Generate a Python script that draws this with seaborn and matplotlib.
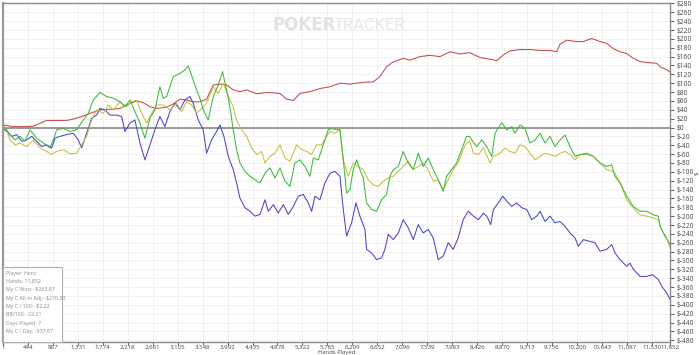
import matplotlib
matplotlib.use("Agg")
import matplotlib.pyplot as plt
from matplotlib.patches import Rectangle
import pandas as pd
import seaborn as sns

# values (hands played, dollars)
red_hands = [1, 7, 185, 362, 540, 777, 836, 1132, 1250, 1428, 1546, 1724, 1901, 2079, 2197,
             2375, 2493, 2612, 2730, 2908, 3026, 3145, 3263, 3381, 3500, 3618, 3737, 3855,
             3973, 4092, 4210, 4330, 4508, 4685, 4922, 5040, 5159, 5277, 5455, 5632, 5810,
             5988, 6165, 6402, 6580, 6698, 6816, 6935, 7112, 7231, 7408, 7586, 7764, 7941,
             8119, 8296, 8477, 8655, 8773, 8892, 9010, 9188, 9365, 9543, 9720, 9839, 9898,
             10016, 10194, 10312, 10460, 10608, 10727, 10845, 10964, 11082, 11200, 11319,
             11496, 11615, 11674, 11792, 11852]
red_won = [0, 6, 2, 2, 3, 16, 16, 16, 19, 26, 32, 40, 41, 43, 51,
           60, 56, 47, 43, 46, 53, 64, 62, 58, 58, 64, 96, 98,
           96, 85, 81, 85, 76, 79, 77, 64, 61, 77, 81, 88, 92,
           100, 98, 102, 103, 115, 137, 148, 156, 152, 160, 163, 160, 171,
           166, 169, 158, 154, 151, 164, 173, 176, 176, 174, 174, 171, 188,
           197, 194, 194, 201, 194, 190, 178, 171, 167, 156, 149,
           146, 145, 137, 131, 125]

green_hands = [1, 7, 66, 125, 214, 303, 392, 481, 599, 717, 836, 895, 954, 1073, 1191, 1309,
               1428, 1517, 1605, 1724, 1842, 1961, 2079, 2168, 2257, 2345, 2434, 2523, 2612,
               2701, 2789, 2849, 2908, 3026, 3145, 3233, 3293, 3381, 3441, 3500, 3559, 3648,
               3737, 3825, 3902, 3973, 4032, 4092, 4151, 4210, 4300, 4389, 4478, 4567, 4656,
               4744, 4833, 4922, 5011, 5100, 5188, 5277, 5366, 5455, 5514, 5603, 5692, 5780,
               5840, 5928, 5988, 6047, 6106, 6165, 6224, 6284, 6343, 6402, 6461, 6550, 6639,
               6728, 6816, 6876, 6935, 7024, 7112, 7201, 7290, 7379, 7468, 7556, 7645, 7734,
               7823, 7882, 7971, 8060, 8148, 8237, 8296, 8329, 8418, 8507, 8596, 8684, 8744,
               8862, 8951, 9040, 9099, 9188, 9276, 9365, 9454, 9543, 9632, 9720, 9809, 9898,
               9987, 10076, 10164, 10253, 10372, 10490, 10608, 10727, 10816, 10875, 10964,
               11082, 11200, 11319, 11437, 11556, 11644, 11674, 11763, 11852]
green_won = [0, 2, -5, -16, -28, -20, -31, -5, -24, -35, -46, -28, -5, -2, -9, -5,
             17, 32, 62, 79, 70, 66, 58, 47, 62, 36, 10, -24, 21,
             40, 92, 66, 70, 115, 122, 130, 139, 107, 85, 66, 40, 17,
             70, 96, 126, 85, 47, -5, -50, -80, -99, -110, -118, -125, -103,
             -91, -114, -91, -121, -133, -80, -73, -88, -110, -69, -73, -39, -5,
             -2, -5, -5, -73, -148, -140, -95, -73, -95, -114, -170, -185, -189,
             -163, -151, -110, -95, -88, -54, -80, -95, -58, -88, -69, -95, -118,
             -144, -110, -95, -80, -50, -20, -20, -28, -43, -28, -43, -65, -13,
             11, -5, 2, -13, 6, -2, -35, -28, -13, -35, -20, -43, -28,
             -17, -43, -65, -61, -58, -65, -80, -88, -84, -110, -125,
             -155, -178, -189, -189, -197, -200, -223, -245, -263.67]

yellow_hands = [1, 7, 66, 125, 214, 303, 421, 540, 658, 777, 865, 954, 1073, 1191, 1309,
                1398, 1487, 1576, 1665, 1783, 1872, 1961, 2079, 2197, 2286, 2375, 2464, 2553,
                2641, 2730, 2849, 2967, 3085, 3174, 3263, 3352, 3441, 3529, 3618, 3737, 3825,
                3914, 4003, 4092, 4151, 4210, 4241, 4330, 4419, 4508, 4596, 4656, 4744, 4833,
                4922, 5011, 5100, 5218, 5307, 5396, 5484, 5573, 5662, 5751, 5810, 5899, 5988,
                6047, 6136, 6224, 6313, 6402, 6491, 6580, 6668, 6757, 6846, 6935, 7024, 7112,
                7201, 7290, 7379, 7468, 7556, 7645, 7734, 7823, 7912, 8000, 8089, 8178, 8237,
                8296, 8359, 8448, 8536, 8655, 8714, 8832, 8921, 9010, 9099, 9188, 9276, 9365,
                9454, 9543, 9632, 9720, 9809, 9898, 9987, 10076, 10164, 10253, 10372, 10490,
                10608, 10727, 10845, 10904, 10993, 11082, 11200, 11319, 11437, 11556, 11644,
                11704, 11792, 11852]
yellow_won = [0, 6, -5, -28, -39, -35, -43, -28, -46, -54, -61, -54, -50, -59, -58,
              -39, -20, 17, 40, 32, 51, 40, 58, 47, 58, 62, 32, 10,
              32, 51, 51, 40, 55, 36, 58, 51, 32, 43, 55, 92, 77,
              100, 70, 47, 17, 2, -5, -20, -46, -61, -54, -80, -65, -58,
              -39, -69, -76, -39, -50, -54, -61, -39, -39, -20, -9, -13, -5,
              -73, -110, -80, -88, -95, -118, -129, -133, -121, -114, -110, -99, -88,
              -76, -95, -88, -80, -95, -121, -118, -140, -118, -95, -80, -50, -35,
              -31, -58, -61, -46, -80, -65, -58, -46, -54, -58, -39, -43, -58,
              -73, -65, -58, -61, -65, -58, -54, -61, -73, -61, -61, -65,
              -80, -95, -99, -110, -133, -163, -182, -197, -200, -204, -208,
              -230, -249, -270.53]

blue_hands = [1, 7, 66, 155, 244, 333, 421, 510, 599, 688, 777, 865, 925, 1013, 1132, 1250,
              1339, 1398, 1487, 1576, 1665, 1724, 1813, 1901, 2020, 2109, 2168, 2257, 2345,
              2434, 2523, 2612, 2701, 2789, 2878, 2967, 3056, 3145, 3233, 3322, 3381, 3470,
              3559, 3618, 3707, 3796, 3855, 3926, 4003, 4092, 4151, 4210, 4300, 4389, 4478,
              4567, 4656, 4715, 4804, 4892, 4981, 5070, 5159, 5248, 5336, 5425, 5484, 5544,
              5632, 5721, 5810, 5899, 5988, 6047, 6106, 6195, 6272, 6343, 6432, 6461, 6550,
              6639, 6728, 6787, 6846, 6935, 7024, 7112, 7201, 7290, 7379, 7468, 7556, 7645,
              7734, 7823, 7912, 8000, 8089, 8178, 8267, 8359, 8448, 8536, 8596, 8667, 8714,
              8803, 8880, 8951, 9040, 9128, 9217, 9306, 9395, 9484, 9543, 9632, 9720, 9809,
              9898, 9987, 10076, 10164, 10224, 10312, 10431, 10520, 10608, 10727, 10816,
              10875, 10964, 11082, 11141, 11200, 11319, 11437, 11544, 11644, 11704, 11792,
              11852]
blue_won = [0, -2, -9, -20, -16, -31, -28, -20, -31, -43, -39, -46, -24, -20, -16, -13,
            -28, -46, -13, 21, 28, 43, 40, 28, 28, 25, -9, 10, 17,
            -35, -73, -39, -5, 25, 2, 36, 55, 40, 62, 70, 55, 17,
            -5, -58, -28, -9, 6, -20, -65, -95, -125, -159, -181, -189, -200,
            -196, -163, -189, -174, -193, -174, -196, -178, -155, -151, -170, -189, -155,
            -163, -125, -103, -99, -110, -185, -245, -215, -170, -200, -230, -275, -283,
            -298, -294, -275, -241, -253, -238, -208, -226, -253, -219, -238, -230, -249,
            -298, -290, -260, -275, -249, -208, -189, -200, -208, -193, -200, -219, -185,
            -170, -155, -166, -178, -170, -181, -185, -208, -200, -189, -212, -200, -215,
            -212, -223, -238, -249, -268, -253, -257, -260, -279, -275, -264,
            -283, -298, -313, -306, -320, -336, -336, -332, -343, -358, -373,
            -388]

tick_hands = [1, 444, 887, 1331, 1774, 2218, 2661, 3105, 3548, 3992, 4435, 4878, 5322, 5765,
              6209, 6652, 7096, 7539, 7983, 8426, 8870, 9313, 9756, 10200, 10643, 11087,
              11530, 11852]
dollar_ticks = list(range(-480, 281, 20))

info_lines = ["Player: Hero", "Hands: 11,852", "My C Won: -$263.67", "My C All-In Adj: -$270.53",
              "My C / 100: -$2.22", "BB/100: -22.21", "Days Played: 7", "My C / Day: -$37.67"]

sns.set_style("white")
plt.rcParams["font.family"] = ["Open Sans", "DejaVu Sans"]

fig = plt.figure(figsize=(7, 3.55), dpi=100)
ax = fig.add_axes([3 / 700, 13 / 355, 667 / 700, 339 / 355])

# watermark
fig.text(273 / 700, 1 - 25 / 355, "POKER", fontsize=12, fontweight="bold", color="#e2e2e2",
         family="DejaVu Sans", va="center", ha="left")
fig.text(334 / 700, 1 - 25 / 355, "TRACKER", fontsize=12, color="#e8e8e8",
         family="Roboto", va="center", ha="left")

series = [
    (red_hands, red_won, "#c84848"),
    (blue_hands, blue_won, "#4646c8"),
    (yellow_hands, yellow_won, "#c8c040"),
    (green_hands, green_won, "#3cb83c"),
]
for hands, won, color in series:
    df = pd.DataFrame({"hands": hands, "won": won})
    sns.lineplot(data=df, x="hands", y="won", color=color, linewidth=0.75, ax=ax)

ax.axhline(0, color="#808080", linewidth=1.1, zorder=1)

ax.set_xlim(1, 11852)
ax.set_ylim(-484, 281)
ax.set_xticks(tick_hands)
ax.set_xticklabels([f"{t:,}" for t in tick_hands])
ax.set_yticks(dollar_ticks)
ax.set_yticklabels([f"${t}" for t in dollar_ticks])
ax.yaxis.tick_right()
ax.tick_params(axis="y", right=True, left=False, labelsize=4.8, colors="#444444",
               length=3, width=0.6, pad=1.5, direction="out")
ax.tick_params(axis="x", bottom=True, labelsize=4.4, colors="#444444",
               length=2, width=0.6, pad=0.3, direction="out")
ax.grid(True, color="#efefef", linewidth=0.6)
ax.set_xlabel("")
ax.set_ylabel("")
for side in ["top", "bottom", "right"]:
    ax.spines[side].set_color("#8a8a8a")
    ax.spines[side].set_linewidth(1.0)
ax.spines["left"].set_color("#9a9a9a")
ax.spines["left"].set_linewidth(1.6)

fig.text(697 / 700, 1 - 173 / 355, "$", fontsize=4.5, rotation=90, color="#444444",
         va="center", ha="center")
fig.text(337 / 700, 1 - 352.5 / 355, "Hands Played", fontsize=4.2, color="#444444",
         va="center", ha="center")

# info box
fig.patches.append(Rectangle((3 / 700, 1 - 342 / 355), 59 / 700, 75 / 355,
                             transform=fig.transFigure, facecolor="white",
                             edgecolor="#b0b0b0", linewidth=0.8, zorder=5))
for i, line in enumerate(info_lines):
    fig.text(6 / 700, 1 - (273 + 8.4 * i) / 355, line, fontsize=3.8, color="#8a8a8a",
             va="center", ha="left", zorder=6)

fig.savefig("out.png", dpi=100)
